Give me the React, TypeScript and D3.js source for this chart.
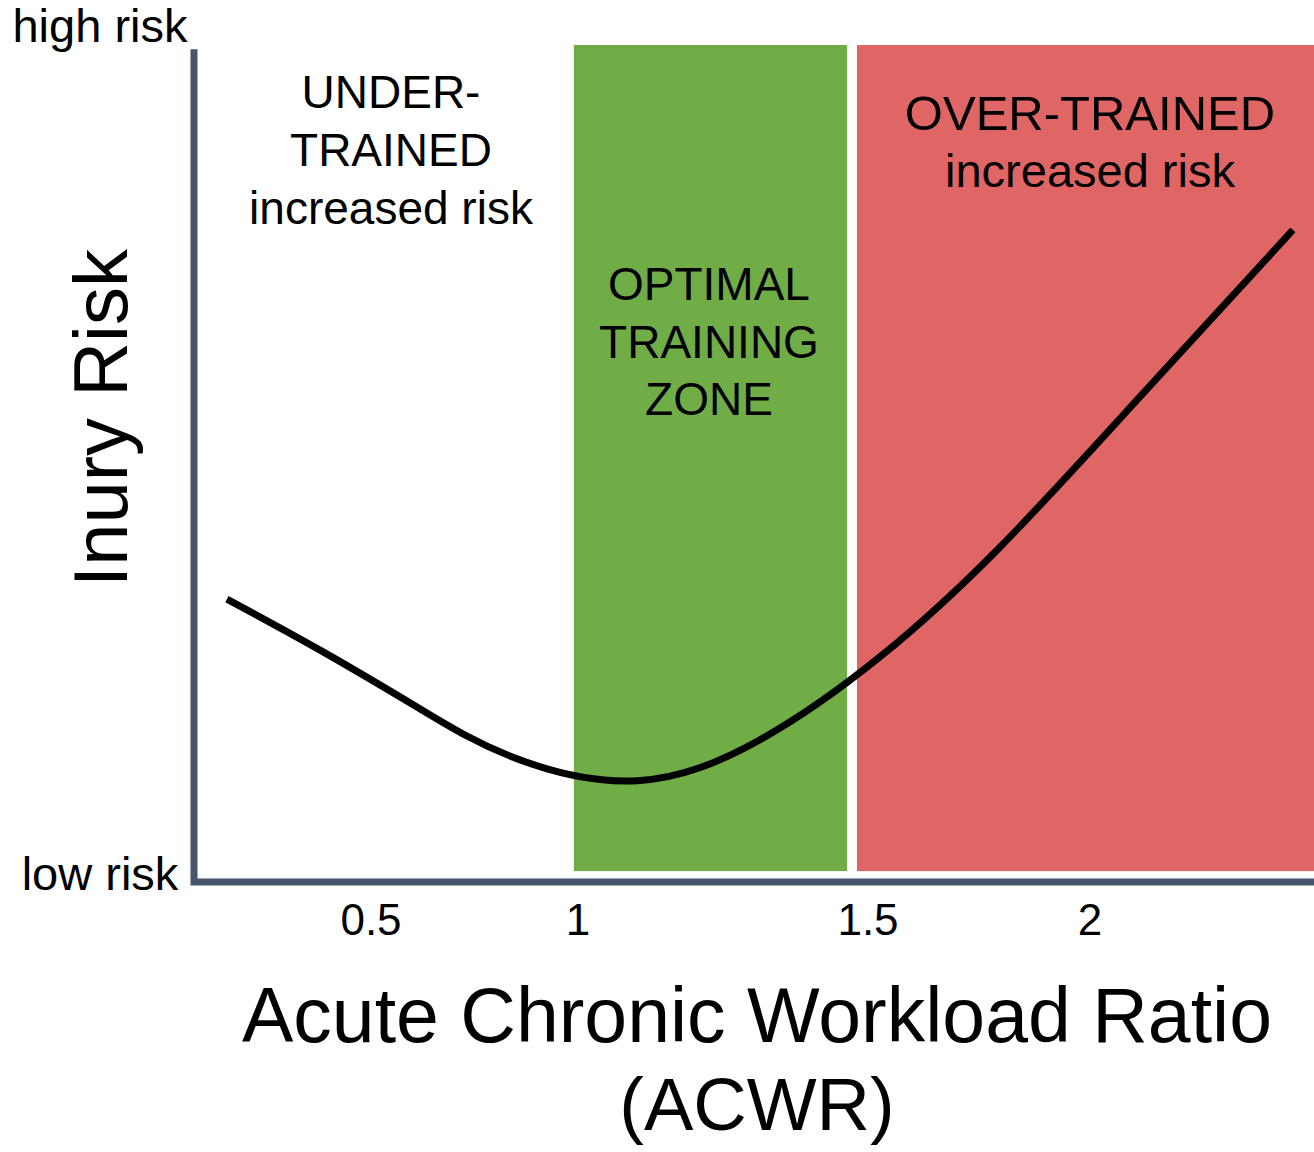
import React from "react";
import * as d3 from "d3";

const tickValues = [0.5, 1, 1.5, 2];
const tickLabels = ["0.5", "1", "1.5", "2"];
const acwr = [0.152, 0.377, 0.618, 0.843, 1.102, 1.314, 1.527, 1.797, 2.106, 2.457];
const risk = [33.8, 27.7, 20.7, 14.9, 12.1, 17.0, 26.9, 40.0, 57.6, 77.9];
const zoneNames = ["optimal", "over"];
const zoneStart = [0.99, 1.481];
const zoneEnd = [1.464, 2.505];
const zoneColors = ["#70ad47", "#e06666"];
const underLines = ["UNDER-", "TRAINED", "increased risk"];
const optimalLines = ["OPTIMAL", "TRAINING", "ZONE"];
const overLines = ["OVER-TRAINED", "increased risk"];

const W = 1314;
const H = 1152;
const FONT = "'Liberation Sans', Arial, Helvetica, sans-serif";
const AXIS = "#47556d";

export default function App() {
  const x = d3.scaleLinear().domain([0.5, 1, 1.5, 2]).range([371, 578, 868, 1090]);
  const y = d3.scaleLinear().domain([0, 100]).range([882, 45]);
  const axisX = 194;
  const axisY = y(0);
  const line = d3
    .line<number>()
    .x((_, i) => x(acwr[i]))
    .y((d) => y(d))
    .curve(d3.curveNatural);

  return (
    <svg width={W} height={H} style={{ position: "absolute", left: 0, top: 0, background: "#fff" }} fontFamily={FONT}>
      {zoneNames.map((n, i) => (
        <rect
          key={n}
          x={x(zoneStart[i])}
          y={y(100)}
          width={x(zoneEnd[i]) - x(zoneStart[i])}
          height={y(1.3) - y(100)}
          fill={zoneColors[i]}
        />
      ))}
      <path d={line(risk) || ""} fill="none" stroke="#000" strokeWidth={7} />
      <path
        d={`M${axisX},${y(99.5)} L${axisX},${axisY} L${W},${axisY}`}
        fill="none"
        stroke={AXIS}
        strokeWidth={7}
      />
      {tickValues.map((v, i) => (
        <text key={v} x={x(v)} y={935} textAnchor="middle" fontSize={44} fill="#000">
          {tickLabels[i]}
        </text>
      ))}
      <text x={100} y={42} textAnchor="middle" fontSize={47}>high risk</text>
      <text x={100} y={890} textAnchor="middle" fontSize={47}>low risk</text>
      <text transform="translate(127,418) rotate(-90)" textAnchor="middle" fontSize={76}>Inury Risk</text>
      <text x={757} y={1042} textAnchor="middle" fontSize={77}>Acute Chronic Workload Ratio</text>
      <text x={757} y={1130} textAnchor="middle" fontSize={74}>(ACWR)</text>
      {underLines.map((t, i) => (
        <text key={t} x={391} y={108 + i * 58} textAnchor="middle" fontSize={46}>{t}</text>
      ))}
      {optimalLines.map((t, i) => (
        <text key={t} x={709} y={300 + i * 57.5} textAnchor="middle" fontSize={46}>{t}</text>
      ))}
      {overLines.map((t, i) => (
        <text key={t} x={1090} y={130 + i * 57} textAnchor="middle" fontSize={i === 0 ? 49 : 47}>{t}</text>
      ))}
    </svg>
  );
}
